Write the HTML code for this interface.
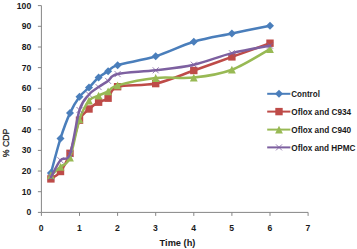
<!DOCTYPE html><html><head><meta charset="utf-8"><title>chart</title><style>html,body{margin:0;padding:0;background:#fff}body{width:357px;height:249px;overflow:hidden}</style></head><body><svg width="357" height="249" viewBox="0 0 357 249" style="display:block">
<rect width="357" height="249" fill="#fff"/>
<path d="M41.4 5.599999999999994V212.4H308.09999999999997" stroke="#868686" stroke-width="1" fill="none"/>
<path d="M37.9 212.4H41.4M37.9 191.7H41.4M37.9 171.0H41.4M37.9 150.4H41.4M37.9 129.7H41.4M37.9 109.0H41.4M37.9 88.3H41.4M37.9 67.6H41.4M37.9 47.0H41.4M37.9 26.3H41.4M37.9 5.6H41.4M41.4 212.4V215.9M79.5 212.4V215.9M117.6 212.4V215.9M155.7 212.4V215.9M193.8 212.4V215.9M231.9 212.4V215.9M270.0 212.4V215.9M308.1 212.4V215.9" stroke="#868686" stroke-width="1" fill="none"/>
<g font-family="'Liberation Sans',sans-serif" font-weight="bold" font-size="8.6" fill="#1a1a1a">
<text x="31.2" y="215.4" text-anchor="end">0</text>
<text x="31.2" y="194.7" text-anchor="end">10</text>
<text x="31.2" y="174.0" text-anchor="end">20</text>
<text x="31.2" y="153.4" text-anchor="end">30</text>
<text x="31.2" y="132.7" text-anchor="end">40</text>
<text x="31.2" y="112.0" text-anchor="end">50</text>
<text x="31.2" y="91.3" text-anchor="end">60</text>
<text x="31.2" y="70.6" text-anchor="end">70</text>
<text x="31.2" y="50.0" text-anchor="end">80</text>
<text x="31.2" y="29.3" text-anchor="end">90</text>
<text x="31.2" y="8.6" text-anchor="end">100</text>
<text x="41.2" y="231.1" text-anchor="middle">0</text>
<text x="79.3" y="231.1" text-anchor="middle">1</text>
<text x="117.4" y="231.1" text-anchor="middle">2</text>
<text x="155.5" y="231.1" text-anchor="middle">3</text>
<text x="193.6" y="231.1" text-anchor="middle">4</text>
<text x="231.7" y="231.1" text-anchor="middle">5</text>
<text x="269.8" y="231.1" text-anchor="middle">6</text>
<text x="307.9" y="231.1" text-anchor="middle">7</text>
<text x="159.6" y="245.8" font-size="9.2" textLength="35.8" lengthAdjust="spacingAndGlyphs">Time (h)</text>
<text transform="translate(9.2,157.3) rotate(-90)" font-weight="normal" font-size="9.4" stroke="#1a1a1a" stroke-width="0.25" textLength="28.6" lengthAdjust="spacingAndGlyphs">% CDP</text>
</g>
<path d="M50.92 173.11C52.51 167.35 57.28 148.57 60.45 138.57C63.62 128.58 66.80 120.10 69.97 113.14C73.15 106.17 76.33 101.07 79.50 96.80C82.67 92.52 85.85 90.70 89.03 87.49C92.20 84.29 95.38 80.29 98.55 77.57C101.73 74.84 104.90 73.22 108.07 71.16C111.25 69.09 109.66 67.64 117.60 65.16C125.54 62.68 143.00 60.16 155.70 56.27C168.40 52.37 181.10 45.58 193.80 41.79C206.50 38.00 219.20 36.21 231.90 33.52C244.60 30.83 263.65 26.97 270.00 25.66" fill="none" stroke="#4a7ebb" stroke-width="2.5" stroke-linejoin="round" stroke-linecap="round"/>
<path d="M50.9 169.1L54.9 173.1L50.9 177.1L46.9 173.1Z" fill="#4a7ebb"/>
<path d="M60.5 134.6L64.5 138.6L60.5 142.6L56.5 138.6Z" fill="#4a7ebb"/>
<path d="M70.0 109.1L74.0 113.1L70.0 117.1L66.0 113.1Z" fill="#4a7ebb"/>
<path d="M79.5 92.8L83.5 96.8L79.5 100.8L75.5 96.8Z" fill="#4a7ebb"/>
<path d="M89.0 83.5L93.0 87.5L89.0 91.5L85.0 87.5Z" fill="#4a7ebb"/>
<path d="M98.6 73.6L102.6 77.6L98.6 81.6L94.6 77.6Z" fill="#4a7ebb"/>
<path d="M108.1 67.2L112.1 71.2L108.1 75.2L104.1 71.2Z" fill="#4a7ebb"/>
<path d="M117.6 61.2L121.6 65.2L117.6 69.2L113.6 65.2Z" fill="#4a7ebb"/>
<path d="M155.7 52.3L159.7 56.3L155.7 60.3L151.7 56.3Z" fill="#4a7ebb"/>
<path d="M193.8 37.8L197.8 41.8L193.8 45.8L189.8 41.8Z" fill="#4a7ebb"/>
<path d="M231.9 29.5L235.9 33.5L231.9 37.5L227.9 33.5Z" fill="#4a7ebb"/>
<path d="M270.0 21.7L274.0 25.7L270.0 29.7L266.0 25.7Z" fill="#4a7ebb"/>
<path d="M50.92 178.90C52.51 177.66 57.28 175.73 60.45 171.45C63.62 167.18 66.80 161.80 69.97 153.26C73.15 144.71 76.33 127.54 79.50 120.17C82.67 112.79 85.85 112.00 89.03 109.00C92.20 106.00 95.38 103.97 98.55 102.18C101.73 100.38 104.90 100.83 108.07 98.25C111.25 95.66 109.66 89.11 117.60 86.67C125.54 84.22 143.00 86.25 155.70 83.56C168.40 80.88 181.10 74.98 193.80 70.54C206.50 66.09 219.20 61.44 231.90 56.89C244.60 52.34 263.65 45.51 270.00 43.24" fill="none" stroke="#be4b48" stroke-width="2.5" stroke-linejoin="round" stroke-linecap="round"/>
<rect x="47.2" y="175.2" width="7.4" height="7.4" fill="#be4b48"/>
<rect x="56.8" y="167.8" width="7.4" height="7.4" fill="#be4b48"/>
<rect x="66.3" y="149.6" width="7.4" height="7.4" fill="#be4b48"/>
<rect x="75.8" y="116.5" width="7.4" height="7.4" fill="#be4b48"/>
<rect x="85.3" y="105.3" width="7.4" height="7.4" fill="#be4b48"/>
<rect x="94.9" y="98.5" width="7.4" height="7.4" fill="#be4b48"/>
<rect x="104.4" y="94.5" width="7.4" height="7.4" fill="#be4b48"/>
<rect x="113.9" y="83.0" width="7.4" height="7.4" fill="#be4b48"/>
<rect x="152.0" y="79.9" width="7.4" height="7.4" fill="#be4b48"/>
<rect x="190.1" y="66.8" width="7.4" height="7.4" fill="#be4b48"/>
<rect x="228.2" y="53.2" width="7.4" height="7.4" fill="#be4b48"/>
<rect x="266.3" y="39.5" width="7.4" height="7.4" fill="#be4b48"/>
<path d="M50.92 175.18C52.51 173.80 57.28 169.83 60.45 166.90C63.62 163.97 66.80 165.53 69.97 157.60C73.15 149.67 76.33 128.82 79.50 119.34C82.67 109.86 85.85 104.69 89.03 100.73C92.20 96.76 95.38 97.11 98.55 95.56C101.73 94.01 104.90 93.11 108.07 91.42C111.25 89.73 109.66 87.67 117.60 85.42C125.54 83.18 143.00 79.29 155.70 77.98C168.40 76.67 181.10 78.95 193.80 77.57C206.50 76.19 219.20 74.46 231.90 69.71C244.60 64.95 263.65 52.47 270.00 49.03" fill="none" stroke="#98b954" stroke-width="2.5" stroke-linejoin="round" stroke-linecap="round"/>
<path d="M50.9 171.3L54.8 179.1L47.0 179.1Z" fill="#98b954"/>
<path d="M60.5 163.0L64.4 170.8L56.6 170.8Z" fill="#98b954"/>
<path d="M70.0 153.7L73.9 161.5L66.1 161.5Z" fill="#98b954"/>
<path d="M79.5 115.4L83.4 123.2L75.6 123.2Z" fill="#98b954"/>
<path d="M89.0 96.8L92.9 104.6L85.1 104.6Z" fill="#98b954"/>
<path d="M98.6 91.7L102.5 99.5L94.7 99.5Z" fill="#98b954"/>
<path d="M108.1 87.5L112.0 95.3L104.2 95.3Z" fill="#98b954"/>
<path d="M117.6 81.5L121.5 89.3L113.7 89.3Z" fill="#98b954"/>
<path d="M155.7 74.1L159.6 81.9L151.8 81.9Z" fill="#98b954"/>
<path d="M193.8 73.7L197.7 81.5L189.9 81.5Z" fill="#98b954"/>
<path d="M231.9 65.8L235.8 73.6L228.0 73.6Z" fill="#98b954"/>
<path d="M270.0 45.1L273.9 52.9L266.1 52.9Z" fill="#98b954"/>
<path d="M50.92 177.24C52.51 174.42 57.28 164.15 60.45 160.29C63.62 156.43 66.80 162.46 69.97 154.08C73.15 145.71 76.33 119.96 79.50 110.03C82.67 100.11 85.85 98.35 89.03 94.52C92.20 90.70 95.38 89.35 98.55 87.08C101.73 84.80 104.90 83.05 108.07 80.88C111.25 78.70 109.66 75.81 117.60 74.05C125.54 72.29 143.00 71.88 155.70 70.33C168.40 68.78 181.10 67.61 193.80 64.74C206.50 61.88 219.20 56.33 231.90 53.16C244.60 49.99 263.65 46.96 270.00 45.72" fill="none" stroke="#7d60a0" stroke-width="2.5" stroke-linejoin="round" stroke-linecap="round"/>
<path d="M47.9 174.2L53.9 180.2M53.9 174.2L47.9 180.2" stroke="#7d60a0" stroke-width="0.8" fill="none"/>
<path d="M57.5 157.3L63.5 163.3M63.5 157.3L57.5 163.3" stroke="#7d60a0" stroke-width="0.8" fill="none"/>
<path d="M67.0 151.1L73.0 157.1M73.0 151.1L67.0 157.1" stroke="#7d60a0" stroke-width="0.8" fill="none"/>
<path d="M76.5 107.0L82.5 113.0M82.5 107.0L76.5 113.0" stroke="#7d60a0" stroke-width="0.8" fill="none"/>
<path d="M86.0 91.5L92.0 97.5M92.0 91.5L86.0 97.5" stroke="#7d60a0" stroke-width="0.8" fill="none"/>
<path d="M95.6 84.1L101.6 90.1M101.6 84.1L95.6 90.1" stroke="#7d60a0" stroke-width="0.8" fill="none"/>
<path d="M105.1 77.9L111.1 83.9M111.1 77.9L105.1 83.9" stroke="#7d60a0" stroke-width="0.8" fill="none"/>
<path d="M114.6 71.1L120.6 77.1M120.6 71.1L114.6 77.1" stroke="#7d60a0" stroke-width="0.8" fill="none"/>
<path d="M152.7 67.3L158.7 73.3M158.7 67.3L152.7 73.3" stroke="#7d60a0" stroke-width="0.8" fill="none"/>
<path d="M190.8 61.7L196.8 67.7M196.8 61.7L190.8 67.7" stroke="#7d60a0" stroke-width="0.8" fill="none"/>
<path d="M228.9 50.2L234.9 56.2M234.9 50.2L228.9 56.2" stroke="#7d60a0" stroke-width="0.8" fill="none"/>
<path d="M267.0 42.7L273.0 48.7M273.0 42.7L267.0 48.7" stroke="#7d60a0" stroke-width="0.8" fill="none"/>
<g font-family="'Liberation Sans',sans-serif" font-weight="bold" font-size="9.1" fill="#1a1a1a">
<path d="M267.2 93.8H290.4" stroke="#4a7ebb" stroke-width="2"/>
<path d="M279.0 89.8L283.0 93.8L279.0 97.8L275.0 93.8Z" fill="#4a7ebb"/>
<text x="291.3" y="96.9" textLength="28.6" lengthAdjust="spacingAndGlyphs">Control</text>
<path d="M267.2 111.6H290.4" stroke="#be4b48" stroke-width="2"/>
<rect x="275.3" y="107.9" width="7.4" height="7.4" fill="#be4b48"/>
<text x="291.3" y="114.7" textLength="59.8" lengthAdjust="spacingAndGlyphs">Oflox and C934</text>
<path d="M267.2 129.6H290.4" stroke="#98b954" stroke-width="2"/>
<path d="M279.0 125.7L282.9 133.5L275.1 133.5Z" fill="#98b954"/>
<text x="291.3" y="132.7" textLength="59.8" lengthAdjust="spacingAndGlyphs">Oflox and C940</text>
<path d="M267.2 147.4H290.4" stroke="#7d60a0" stroke-width="2"/>
<path d="M276.0 144.4L282.0 150.4M282.0 144.4L276.0 150.4" stroke="#7d60a0" stroke-width="0.8" fill="none"/>
<text x="291.3" y="150.5" textLength="64.2" lengthAdjust="spacingAndGlyphs">Oflox and HPMC</text>
</g>
</svg></body></html>
